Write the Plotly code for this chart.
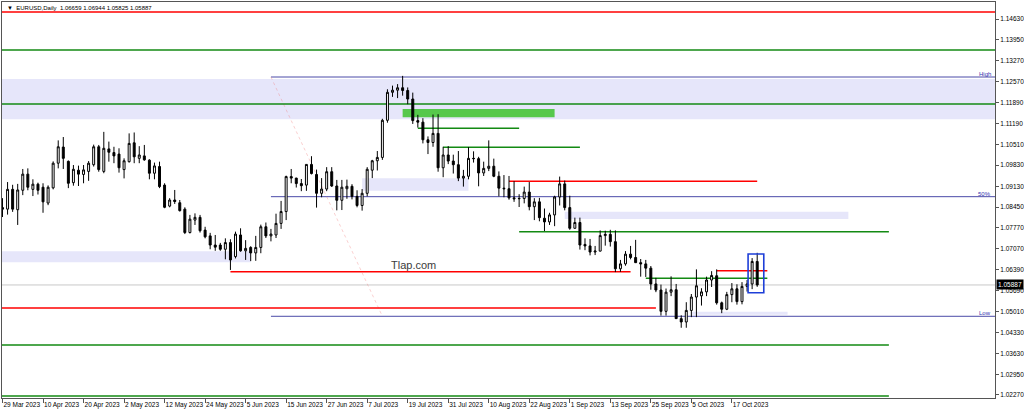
import plotly.graph_objects as go
import pandas as pd

# ---------------- data (EURUSD daily) ----------------
dates = pd.bdate_range("2023-03-29", "2023-10-24")  # trading days on the axis

opens = [1.0843, 1.0838, 1.0903, 1.0836, 1.0900, 1.0953, 1.0903, 1.0920, 1.0910, 1.0858,
         1.0908, 1.0989, 1.1042, 1.0995, 1.0925, 1.0966, 1.0952, 1.0962, 1.0984, 1.1043,
         1.0962, 1.1036, 1.1024, 1.1019, 1.0968, 1.0994, 1.1056, 1.1005, 1.1013, 1.0999,
         1.0956, 1.0978, 1.0917, 1.0848, 1.0868, 1.0859, 1.0838, 1.0761, 1.0802, 1.0811,
         1.0769, 1.0750, 1.0720, 1.0720, 1.0706, 1.0728, 1.0682, 1.0753, 1.0701, 1.0712,
         1.0694, 1.0712, 1.0780, 1.0750, 1.0753, 1.0791, 1.0830, 1.0945, 1.0940, 1.0922,
         1.0917, 1.0985, 1.0952, 1.0890, 1.0904, 1.0961, 1.0914, 1.0867, 1.0905, 1.0913,
         1.0880, 1.0850, 1.0890, 1.0966, 1.0997, 1.1008, 1.1130, 1.1222, 1.1229, 1.1237,
         1.1228, 1.1200, 1.1129, 1.1124, 1.1066, 1.1057, 1.1087, 1.0974, 1.1016, 1.0996,
         1.0984, 1.0940, 1.0946, 1.1005, 1.1004, 1.0957, 1.0972, 1.0979, 1.0946, 1.0907,
         1.0905, 1.0875, 1.0872, 1.0873, 1.0894, 1.0846, 1.0862, 1.0808, 1.0796, 1.0819,
         1.0878, 1.0921, 1.0843, 1.0775, 1.0794, 1.0722, 1.0717, 1.0697, 1.0700, 1.0751,
         1.0755, 1.0731, 1.0642, 1.0658, 1.0690, 1.0679, 1.0662, 1.0658, 1.0644, 1.0592,
         1.0572, 1.0502, 1.0565, 1.0573, 1.0478, 1.0467, 1.0505, 1.0549, 1.0553, 1.0566,
         1.0605, 1.0619, 1.0530, 1.0509, 1.0557, 1.0576, 1.0534, 1.0584, 1.0592, 1.06659]
highs = [1.0874, 1.0927, 1.0918, 1.0921, 1.0970, 1.0972, 1.0936, 1.0925, 1.0923, 1.0916,
         1.0995, 1.1064, 1.1075, 1.0998, 1.0983, 1.0981, 1.0983, 1.0996, 1.1050, 1.1049,
         1.1092, 1.1060, 1.1043, 1.1038, 1.1005, 1.1087, 1.1090, 1.1045, 1.1049, 1.1002,
         1.0991, 1.0994, 1.0923, 1.0874, 1.0901, 1.0868, 1.0844, 1.0819, 1.0824, 1.0819,
         1.0780, 1.0760, 1.0753, 1.0727, 1.0742, 1.0739, 1.0764, 1.0775, 1.0736, 1.0716,
         1.0750, 1.0787, 1.0794, 1.0773, 1.0823, 1.0865, 1.0948, 1.0970, 1.0941, 1.0937,
         1.0985, 1.1012, 1.0968, 1.0940, 1.0976, 1.0976, 1.0934, 1.0934, 1.0935, 1.0920,
         1.0900, 1.0904, 1.0976, 1.1000, 1.1029, 1.1135, 1.1232, 1.1244, 1.1249, 1.1276,
         1.1238, 1.1221, 1.1148, 1.1137, 1.1077, 1.1149, 1.1150, 1.1043, 1.1045, 1.1017,
         1.1029, 1.0967, 1.1042, 1.1028, 1.1010, 1.0994, 1.1064, 1.1004, 1.0962, 1.0950,
         1.0947, 1.0930, 1.0887, 1.0912, 1.0927, 1.0874, 1.0875, 1.0840, 1.0826, 1.0882,
         1.0945, 1.0932, 1.0882, 1.0810, 1.0810, 1.0742, 1.0740, 1.0717, 1.0768, 1.0767,
         1.0770, 1.0768, 1.0671, 1.0700, 1.0717, 1.0737, 1.0674, 1.0671, 1.0651, 1.0612,
         1.0590, 1.0577, 1.0617, 1.0592, 1.0489, 1.0532, 1.0559, 1.0640, 1.0578, 1.0616,
         1.0634, 1.0640, 1.0534, 1.0566, 1.0595, 1.0591, 1.0598, 1.0605, 1.0677, 1.06944]
lows = [1.0812, 1.0820, 1.0829, 1.0786, 1.0884, 1.0900, 1.0881, 1.0886, 1.0826, 1.0851,
        1.0903, 1.0972, 1.0970, 1.0907, 1.0915, 1.0914, 1.0923, 1.0931, 1.0978, 1.0961,
        1.0956, 1.0994, 1.0989, 1.0958, 1.0939, 1.0991, 1.0989, 1.0989, 1.0997, 1.0936,
        1.0936, 1.0907, 1.0841, 1.0844, 1.0855, 1.0830, 1.0756, 1.0758, 1.0786, 1.0761,
        1.0742, 1.0706, 1.0701, 1.0701, 1.0673, 1.0638, 1.0676, 1.0698, 1.0671, 1.0667,
        1.0668, 1.0693, 1.0743, 1.0732, 1.0743, 1.0773, 1.0802, 1.0923, 1.0909, 1.0897,
        1.0898, 1.0952, 1.0843, 1.0877, 1.0897, 1.0911, 1.0834, 1.0835, 1.0872, 1.0870,
        1.0844, 1.0833, 1.0880, 1.0940, 1.0965, 1.1000, 1.1122, 1.1207, 1.1203, 1.1211,
        1.1183, 1.1118, 1.1106, 1.1054, 1.1019, 1.1043, 1.0961, 1.0943, 1.0986, 1.0955,
        1.0930, 1.0912, 1.0936, 1.0991, 1.0913, 1.0947, 1.0963, 1.0943, 1.0880, 1.0877,
        1.0869, 1.0862, 1.0845, 1.0857, 1.0834, 1.0802, 1.0798, 1.0766, 1.0786, 1.0782,
        1.0850, 1.0834, 1.0770, 1.0774, 1.0705, 1.0703, 1.0686, 1.0687, 1.0699, 1.0718,
        1.0715, 1.0631, 1.0632, 1.0652, 1.0673, 1.0661, 1.0616, 1.0615, 1.0573, 1.0565,
        1.0488, 1.0488, 1.0552, 1.0478, 1.0448, 1.0448, 1.0483, 1.0483, 1.0521, 1.0552,
        1.0582, 1.0524, 1.0496, 1.0506, 1.0532, 1.0524, 1.0525, 1.0567, 1.0575, 1.05825]
closes = [1.0838, 1.0903, 1.0838, 1.0901, 1.0953, 1.0910, 1.0920, 1.0900, 1.0862, 1.0910,
          1.0989, 1.1043, 1.1005, 1.0923, 1.0969, 1.0953, 1.0967, 1.0989, 1.1043, 1.0968,
          1.1038, 1.1025, 1.1013, 1.0974, 1.0997, 1.1054, 1.1010, 1.1016, 1.1000, 1.0956,
          1.0980, 1.0912, 1.0844, 1.0868, 1.0863, 1.0833, 1.0761, 1.0805, 1.0811, 1.0767,
          1.0747, 1.0720, 1.0713, 1.0706, 1.0728, 1.0671, 1.0756, 1.0701, 1.0709, 1.0694,
          1.0712, 1.0780, 1.0750, 1.0756, 1.0791, 1.0830, 1.0945, 1.0940, 1.0922, 1.0915,
          1.0985, 1.0955, 1.0890, 1.0904, 1.0961, 1.0914, 1.0867, 1.0910, 1.0913, 1.0880,
          1.0850, 1.0890, 1.0969, 1.0997, 1.1008, 1.1130, 1.1222, 1.1229, 1.1237, 1.1228,
          1.1200, 1.1129, 1.1124, 1.1066, 1.1057, 1.1087, 1.0974, 1.1016, 1.0996, 1.0984,
          1.0940, 1.0946, 1.1005, 1.1004, 1.0957, 1.0972, 1.0979, 1.0946, 1.0907, 1.0905,
          1.0875, 1.0872, 1.0873, 1.0894, 1.0846, 1.0862, 1.0810, 1.0796, 1.0819, 1.0878,
          1.0921, 1.0843, 1.0775, 1.0794, 1.0720, 1.0717, 1.0697, 1.0700, 1.0751, 1.0755,
          1.0731, 1.0642, 1.0658, 1.0690, 1.0679, 1.0662, 1.0658, 1.0644, 1.0592, 1.0572,
          1.0502, 1.0565, 1.0573, 1.0478, 1.0467, 1.0505, 1.0549, 1.0586, 1.0566, 1.0605,
          1.0620, 1.0530, 1.0509, 1.0557, 1.0576, 1.0534, 1.0584, 1.0592, 1.0666, 1.05887]

tick_bars = [0, 8, 16, 24, 32, 40, 48, 56, 64, 72, 80, 88, 96, 104, 112, 120, 128, 136, 144]
tick_labels = ["29 Mar 2023", "10 Apr 2023", "20 Apr 2023", "2 May 2023", "12 May 2023",
               "24 May 2023", "5 Jun 2023", "15 Jun 2023", "27 Jun 2023", "7 Jul 2023",
               "19 Jul 2023", "31 Jul 2023", "10 Aug 2023", "22 Aug 2023", "1 Sep 2023",
               "13 Sep 2023", "25 Sep 2023", "5 Oct 2023", "17 Oct 2023"]
price_ticks = [1.14630, 1.13950, 1.13270, 1.12570, 1.11890, 1.11190, 1.10510, 1.09830,
               1.09130, 1.08450, 1.07770, 1.07070, 1.06390, 1.05690, 1.05010, 1.04330,
               1.03630, 1.02950, 1.02270]

# drawn objects: (price, first bar, last bar); None = chart edge
red_levels = [(1.14860, None, None), (1.09295, 100, 149), (1.06323, 45, 124),
              (1.06356, 141, 151), (1.05130, None, 129)]
green_levels = [(1.13611, None, None), (1.11836, None, None), (1.11037, 82, 102),
                (1.10412, 87, 114), (1.07638, 102, 175), (1.06106, 127, 151),
                (1.03913, None, 175), (1.02237, None, 175)]
fib_names = ["High", "50%", "Low"]
fib_levels = [1.12723, 1.08789, 1.04857]
fib_start_bar = 53
fib_end_bar = 75
# zones: (low price, high price, first bar, last bar)
lavender_zones = [(1.11333, 1.12658, None, None), (1.08986, 1.09394, 71, 92),
                  (1.08056, 1.08296, 111, 167), (1.06630, 1.06999, None, 49),
                  (1.04910, 1.05010, 136, 155)]
supply_zone = (1.11399, 1.11671, 79, 109)
highlight_box = (1.05633, 1.06903, 147.2, 150.3)
symbol_title = "\u25BC  EURUSD,Daily  1.06659 1.06944 1.05825 1.05887"

# ---------------- figure ----------------
bars = list(range(len(dates)))
X_LO, X_HI = -0.1, 195.95
Y_LO, Y_HI = 1.02171, 1.15189

def xs(v, edge):
    return edge if v is None else v

fig = go.Figure()
fig.add_trace(go.Candlestick(
    x=bars, open=opens, high=highs, low=lows, close=closes,
    increasing=dict(line=dict(color="#000000", width=1), fillcolor="#ffffff"),
    decreasing=dict(line=dict(color="#000000", width=1), fillcolor="#000000"),
    whiskerwidth=0, hoverinfo="skip", showlegend=False))

shapes = []
for lo, hi, a, b in lavender_zones:
    shapes.append(dict(type="rect", xref="x", yref="y", x0=xs(a, X_LO), x1=xs(b, X_HI),
                       y0=lo, y1=hi, fillcolor="#e6e6fa", line=dict(width=0), layer="below"))
lo, hi, a, b = supply_zone
shapes.append(dict(type="rect", xref="x", yref="y", x0=a, x1=b, y0=lo, y1=hi,
                   fillcolor="#56c84c", line=dict(width=0), layer="below"))
# current price line
shapes.append(dict(type="line", xref="x", yref="y", x0=X_LO, x1=X_HI, y0=closes[-1], y1=closes[-1],
                   line=dict(color="#c8c8c8", width=1), layer="below"))
for p in fib_levels:
    shapes.append(dict(type="line", xref="x", yref="y", x0=fib_start_bar, x1=X_HI, y0=p, y1=p,
                       line=dict(color="#4a4aa8", width=1), layer="below"))
shapes.append(dict(type="line", xref="x", yref="y", x0=fib_start_bar, x1=fib_end_bar,
                   y0=fib_levels[0], y1=fib_levels[-1],
                   line=dict(color="rgba(240,120,120,0.35)", width=1, dash="dot"), layer="below"))
for p, a, b in green_levels:
    shapes.append(dict(type="line", xref="x", yref="y", x0=xs(a, X_LO), x1=xs(b, X_HI), y0=p, y1=p,
                       line=dict(color="#138a13", width=1.5), layer="below"))
for p, a, b in red_levels:
    shapes.append(dict(type="line", xref="x", yref="y", x0=xs(a, X_LO), x1=xs(b, X_HI), y0=p, y1=p,
                       line=dict(color="#ff0000", width=1.5), layer="below"))
lo, hi, a, b = highlight_box
shapes.append(dict(type="rect", xref="x", yref="y", x0=a, x1=b, y0=lo, y1=hi,
                   fillcolor="rgba(0,0,0,0)", line=dict(color="#1e3fd8", width=1.6)))

annotations = [
    dict(text=symbol_title, xref="paper", yref="paper", x=0.003, y=1, xanchor="left", yanchor="top",
         yshift=-1, showarrow=False, font=dict(family="Liberation Sans", size=6, color="#000000")),
    dict(text="Tlap.com", xref="paper", yref="paper", x=0.414, y=0.336, xanchor="center",
         yanchor="middle", showarrow=False,
         font=dict(family="Liberation Sans", size=11, color="#3c3c3c")),
    dict(text="%.5f" % closes[-1], xref="paper", yref="y", x=1, y=closes[-1], xanchor="left",
         yanchor="middle", xshift=1, showarrow=False, bgcolor="#000000", borderpad=1,
         font=dict(family="Liberation Sans", size=6.5, color="#ffffff")),
]
for name, p in zip(fib_names, fib_levels):
    annotations.append(dict(text=name, xref="paper", yref="y", x=0.998, y=p, xanchor="right",
                            yanchor="bottom", showarrow=False, yshift=-2,
                            font=dict(family="Liberation Sans", size=6, color="#3434b0")))

fig.update_layout(
    width=1024, height=411,
    margin=dict(l=2, r=29, t=2, b=13, autoexpand=False),
    paper_bgcolor="#ffffff", plot_bgcolor="#ffffff",
    showlegend=False, boxgap=0.45,
    font=dict(family="Liberation Sans", size=7, color="#000000"),
    shapes=shapes, annotations=annotations,
    xaxis=dict(range=[X_LO, X_HI], rangeslider=dict(visible=False), showgrid=False, zeroline=False,
               tickmode="array", tickvals=tick_bars, ticktext=tick_labels, tickangle=0,
               ticks="outside", ticklen=4, tickcolor="#555555", ticklabelposition="outside right",
               showline=True, linecolor="#555555", linewidth=1, mirror=True, automargin=False,
               tickfont=dict(family="Liberation Sans", size=6.5, color="#000000")),
    yaxis=dict(range=[Y_LO, Y_HI], side="right", showgrid=False, zeroline=False,
               tickmode="array", tickvals=price_ticks, ticktext=["%.5f" % v for v in price_ticks],
               ticks="outside", ticklen=3, tickcolor="#555555", automargin=False,
               showline=True, linecolor="#555555", linewidth=1, mirror=True,
               tickfont=dict(family="Liberation Sans", size=6.5, color="#000000")),
)

fig.write_html("out.html", config={"displayModeBar": False},
               post_script="document.body.style.margin='0';document.body.style.overflow='hidden';")
